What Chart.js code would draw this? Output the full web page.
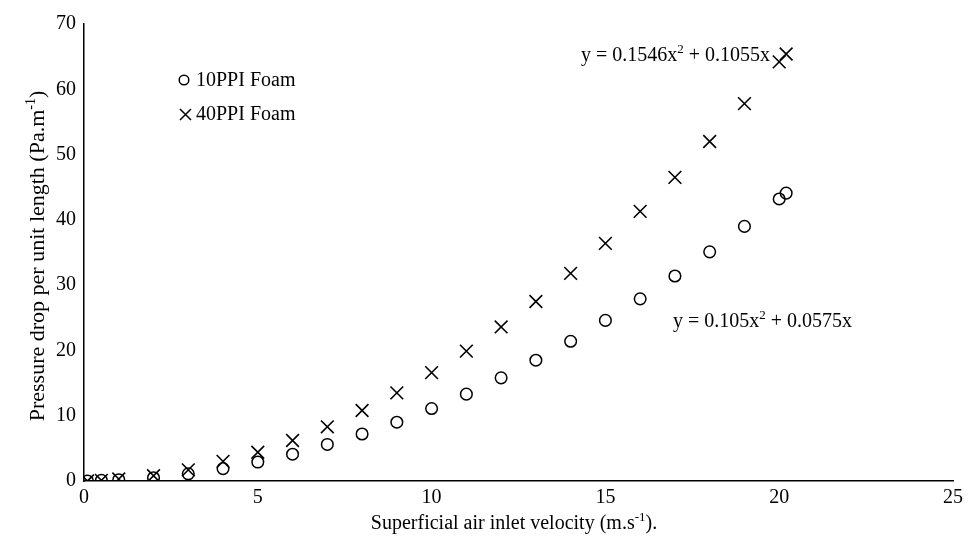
<!DOCTYPE html>
<html lang="en">
<head>
<meta charset="UTF-8">
<title>Pressure drop per unit length</title>
<script src="https://cdn.jsdelivr.net/npm/chart.js"></script>
<style>
  body { margin: 0; background: #fff; }
</style>
</head>
<body>
<canvas id="dropChart" width="968" height="546"></canvas>
<script>
  // superficial air inlet velocity (m/s)
  const velocity = [0.1, 0.5, 1, 2, 3, 4, 5, 6, 7, 8, 9, 10, 11, 12, 13, 14, 15, 16, 17, 18, 19, 20, 20.2];
  // pressure drop per unit length (Pa/m)
  const foam10 = [0, 0.1, 0.2, 0.5, 1.1, 1.9, 2.9, 4.1, 5.6, 7.2, 9.0, 11.1, 13.3, 15.8, 18.5, 21.4, 24.6, 27.9, 31.4, 35.1, 39.0, 43.2, 44.1];
  const foam40 = [0, 0.1, 0.3, 0.8, 1.7, 3.0, 4.4, 6.2, 8.3, 10.8, 13.5, 16.6, 19.9, 23.6, 27.5, 31.8, 36.4, 41.3, 46.5, 52.0, 57.8, 64.2, 65.4];
  const seriesNames = ['10PPI Foam', '40PPI Foam'];

  const serif = "'Liberation Serif', 'Times New Roman', serif";
  const fontSize = 20;

  // draws text pieces, some of them as superscript
  function drawRich(ctx, parts, x, y, size, align) {
    const supSize = Math.round(size * 0.65);
    let total = 0;
    parts.forEach(p => {
      ctx.font = (p.sup ? supSize : size) + 'px ' + serif;
      p.w = ctx.measureText(p.t).width;
      total += p.w;
    });
    let cx = align === 'center' ? x - total / 2 : x;
    ctx.textAlign = 'left';
    ctx.textBaseline = 'middle';
    parts.forEach(p => {
      ctx.font = (p.sup ? supSize : size) + 'px ' + serif;
      ctx.fillText(p.t, cx, p.sup ? y - size * 0.3 : y);
      cx += p.w;
    });
  }

  const textPlugin = {
    id: 'chartText',
    afterDraw(chart) {
      const ctx = chart.ctx;
      ctx.save();
      ctx.fillStyle = '#000';
      ctx.strokeStyle = '#000';

      // legend
      ctx.lineWidth = 1.5;
      ctx.beginPath();
      ctx.arc(184, 80, 4.8, 0, Math.PI * 2);
      ctx.stroke();
      ctx.beginPath();
      ctx.moveTo(180, 109); ctx.lineTo(191, 120);
      ctx.moveTo(191, 109); ctx.lineTo(180, 120);
      ctx.stroke();
      drawRich(ctx, [{t: seriesNames[0]}], 196, 81, fontSize, 'left');
      drawRich(ctx, [{t: seriesNames[1]}], 196, 115, fontSize, 'left');

      // fitted equations
      drawRich(ctx, [{t: 'y = 0.1546x'}, {t: '2', sup: true}, {t: ' + 0.1055x'}], 581, 56, fontSize, 'left');
      drawRich(ctx, [{t: 'y = 0.105x'}, {t: '2', sup: true}, {t: ' + 0.0575x'}], 673, 322, fontSize, 'left');

      // axis titles
      drawRich(ctx, [{t: 'Superficial air inlet velocity (m.s'}, {t: '-1', sup: true}, {t: ').'}],
        514, 524, fontSize, 'center');
      ctx.translate(38, 256);
      ctx.rotate(-Math.PI / 2);
      drawRich(ctx, [{t: 'Pressure drop per unit length (Pa.m'}, {t: '-1', sup: true}, {t: ')'}],
        0, 0, 22, 'center');
      ctx.restore();
    }
  };

  const toPoints = ys => velocity.map((v, i) => ({x: v, y: ys[i]}));

  new Chart(document.getElementById('dropChart'), {
    type: 'scatter',
    data: {
      datasets: [{
        label: seriesNames[0],
        data: toPoints(foam10),
        pointStyle: 'circle',
        pointRadius: 5.8,
        pointHoverRadius: 5.8,
        borderColor: '#000',
        backgroundColor: 'rgba(0,0,0,0)',
        pointBorderWidth: 1.5
      }, {
        label: seriesNames[1],
        data: toPoints(foam40),
        pointStyle: 'crossRot',
        pointRadius: 9,
        pointHoverRadius: 9,
        borderColor: '#000',
        backgroundColor: '#000',
        pointBorderWidth: 1.6
      }]
    },
    options: {
      responsive: false,
      animation: false,
      layout: { padding: { top: 24, right: 8, left: 0, bottom: 0 } },
      plugins: {
        legend: { display: false },
        tooltip: { enabled: false }
      },
      scales: {
        x: {
          type: 'linear',
          min: 0,
          max: 25,
          ticks: { stepSize: 5, color: '#000', padding: 5, font: { family: serif, size: fontSize } },
          grid: { display: false, drawTicks: false },
          border: { color: '#000', width: 1.5 },
          afterFit: s => { s.height = 65; }
        },
        y: {
          min: 0,
          max: 70,
          ticks: { stepSize: 10, color: '#000', padding: 8, font: { family: serif, size: fontSize } },
          grid: { display: false, drawTicks: false },
          border: { color: '#000', width: 1.5 },
          afterFit: s => { s.width = 84; }
        }
      }
    },
    plugins: [textPlugin]
  });
</script>
</body>
</html>
